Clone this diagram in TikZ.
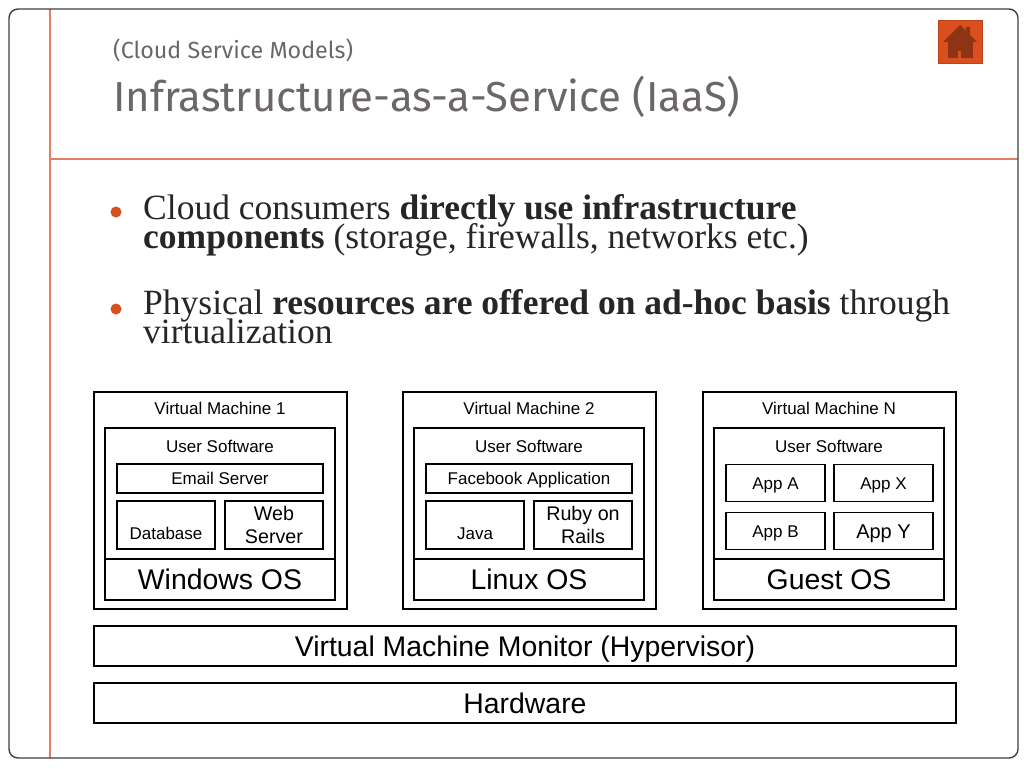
\documentclass[tikz,border=0pt]{standalone}
\usepackage{fontspec}
\setmainfont{Liberation Serif}
\setsansfont{Liberation Sans}
\newfontfamily\titlefont{Fira Sans}
\usepackage{xcolor}
\usetikzlibrary{positioning}
\definecolor{slideorange}{HTML}{D9501E}
\definecolor{ruleorange}{HTML}{E08060}
\definecolor{titlegray}{HTML}{6B6767}
\definecolor{housedark}{HTML}{8E3414}
\tikzset{
  boxnode/.style={draw=black, line width=1.9pt, inner sep=0pt, outer sep=0pt, align=center, font=\sffamily, text=black},
  smalltxt/.style={font=\fontsize{17}{19}\sffamily, text=black, inner sep=0pt},
  appbox/.style={boxnode, text height=12.2pt, text depth=0pt, font=\fontsize{17}{19}\sffamily},
  ostxt/.style={boxnode, text height=20.4pt, text depth=0pt, font=\fontsize{28.4}{32}\sffamily},
  bullettxt/.style={anchor=base west, inner sep=0pt, align=left, font=\fontsize{35.5}{29}\selectfont, text=black!85},
  bulletdot/.style={circle, fill=slideorange, inner sep=0pt, minimum size=11pt}
}
\begin{document}
\lineskiplimit=-30pt
\begin{tikzpicture}[x=1pt, y=-1pt]
\useasboundingbox (0,0) rectangle (1024,768);
\fill[white] (0,0) rectangle (1024,768);

% Slide frame and rules
\draw[ruleorange, line width=1.3pt] (50,9) -- (50,758);
\draw[ruleorange, line width=1.3pt] (50,159) -- (1018,159);
\draw[black!75, line width=1.4pt, rounded corners=9pt] (9,9) rectangle (1018,758);

% Home button
\node[fill=slideorange, draw=slideorange!85!black, minimum width=44pt, minimum height=43pt, inner sep=0pt] (homebtn) at (960,41.5) {};
\fill[housedark] (943,42) -- (960,25) -- (966,31) -- (966,27) -- (970,27) -- (970,35) -- (977,42) -- cycle;
\fill[housedark] (948,42) rectangle (973,58);
\fill[slideorange] (958,51) rectangle (961,58);

% Title
\node[anchor=base west, inner sep=0pt, font=\fontsize{23.3}{26}\titlefont, text=titlegray] (subtitle) at (113,59) {(Cloud Service Models)};
\node[anchor=base west, inner sep=0pt, font=\fontsize{41.9}{46}\titlefont, text=titlegray] (title) at (113,111) {Infrastructure-as-a-Service (IaaS)};

% Bullets
\node[bulletdot] (dot1) at (116,212) {};
\node[bullettxt] (bullet1) at (143,248) {Cloud consumers \textbf{directly use infrastructure}\\\textbf{components} (storage, firewalls, networks etc.)};
\node[bulletdot] (dot2) at (116,309) {};
\node[bullettxt] (bullet2) at (143,343) {Physical \textbf{resources are offered on ad-hoc basis} through\\virtualization};

% Virtual machine frames
\foreach \x/\vmid/\lbl/\oslbl in {220.5/vma/Virtual Machine 1/Windows OS, 529.5/vmb/Virtual Machine 2/Linux OS, 829.5/vmc/Virtual Machine N/Guest OS} {
  \node[boxnode, minimum width=253pt, minimum height=217pt] (\vmid) at (\x,500.5) {};
  \node[smalltxt] (\vmid-name) at (\x-0.5,408.5) {\lbl};
  \node[boxnode, minimum width=230pt, minimum height=131pt] (\vmid-sw) at (\x-0.5,493.5) {};
  \node[smalltxt] (\vmid-swname) at (\x-0.5,446.5) {User Software};
  \node[ostxt, minimum width=230pt, minimum height=41pt] (\vmid-os) at (\x-0.5,579.5) {\oslbl};
}

% VM 1 apps
\node[appbox, minimum width=206pt, minimum height=29pt] (email) at (220,478.5) {Email Server};
\node[boxnode, minimum width=98pt, minimum height=48pt] (database) at (166,525) {};
\node[smalltxt] (databasetxt) at (166,533.5) {Database};
\node[boxnode, font=\fontsize{19.7}{23}\sffamily, minimum width=98pt, minimum height=48pt] (web) at (274,525) {Web\\[0.5pt]Server};

% VM 2 apps
\node[appbox, minimum width=206pt, minimum height=29pt] (facebook) at (529,478.5) {Facebook Application};
\node[boxnode, minimum width=98pt, minimum height=48pt] (java) at (475,525) {};
\node[smalltxt] (javatxt) at (475,534) {Java};
\node[boxnode, font=\fontsize{19.7}{23}\sffamily, minimum width=98pt, minimum height=48pt] (ruby) at (583,525) {Ruby on\\[0.5pt]Rails};

% VM N apps
\foreach \x/\y/\appid/\lbl in {775.5/483/appa/App A, 883.5/483/appx/App X, 775.5/531/appb/App B}
  \node[appbox, minimum width=99pt, minimum height=37pt] (\appid) at (\x,\y) {\lbl};
\node[boxnode, text height=14.4pt, text depth=0pt, font=\fontsize{20}{22}\sffamily, minimum width=99pt, minimum height=37pt] (appy) at (883.5,531) {App Y};

% Bottom layers
\node[ostxt, minimum width=862pt, minimum height=40pt] (hypervisor) at (525,646) {Virtual Machine Monitor (Hypervisor)};
\node[ostxt, minimum width=862pt, minimum height=40pt] (hardware) at (525,703) {Hardware};
\end{tikzpicture}
\end{document}
